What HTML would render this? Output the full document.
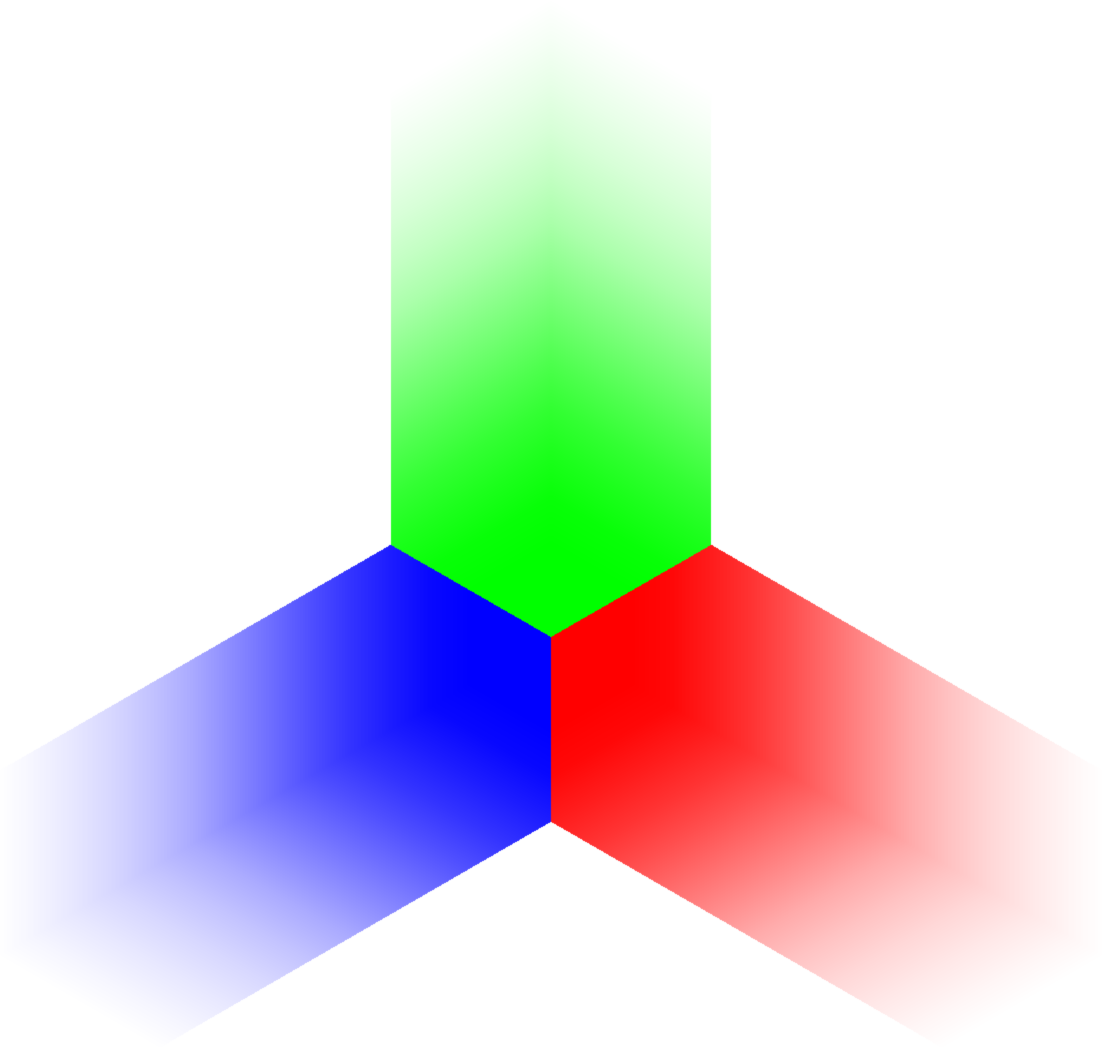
<!DOCTYPE html>
<html lang="en">
<head>
<meta charset="utf-8">
<title>Three-axis gradient faces</title>
<style>
html,body{margin:0;padding:0;background:#fff;width:1104px;height:1047px;overflow:hidden}
canvas{display:block}
</style>
</head>
<body>
<canvas id="chart" width="1104" height="1047"></canvas>
<script>
// Fade profile: depth from the inner vertex -> opacity
const fadeDepths = [0, 80, 120, 160, 200, 240, 280, 320, 360, 400, 440, 480, 520, 552];
const fadeOpacity = [1, 1, 0.97, 0.89, 0.8, 0.69, 0.57, 0.45, 0.33, 0.235, 0.155, 0.09, 0.035, 0];
const faceColors = [[0, 255, 0], [255, 0, 0], [0, 0, 255]];
const faceAngles = [0, 120, 240];

const cx = 551, cy = 637;
const halfWidth = 160, notch = 92, shoulder = 545;
const canvas = document.getElementById('chart');
const ctx = canvas.getContext('2d');
const img = ctx.createImageData(canvas.width, canvas.height);

function fade(q) {
  for (let k = 1; k < fadeDepths.length; k++) {
    if (q <= fadeDepths[k]) {
      const t = (q - fadeDepths[k - 1]) / (fadeDepths[k] - fadeDepths[k - 1]);
      return fadeOpacity[k - 1] + t * (fadeOpacity[k] - fadeOpacity[k - 1]);
    }
  }
  return 0;
}

const rots = faceAngles.map(a => {
  const r = a * Math.PI / 180;
  return [Math.cos(r), Math.sin(r)];
});

for (let y = 0; y < canvas.height; y++) {
  for (let x = 0; x < canvas.width; x++) {
    const dx = x + 0.5 - cx, dy = y + 0.5 - cy;
    const o = (y * canvas.width + x) * 4;
    img.data[o] = img.data[o + 1] = img.data[o + 2] = img.data[o + 3] = 255;
    for (let f = 0; f < rots.length; f++) {
      const c = rots[f][0], s = rots[f][1];
      // rotate the pixel back into the upright (green) face frame
      const lx = dx * c + dy * s;
      const up = dx * s - dy * c;
      const ax = Math.abs(lx);
      if (ax > halfWidth) continue;
      if (up < ax * notch / halfWidth) continue;
      if (up > shoulder + (halfWidth - ax) * notch / halfWidth) continue;
      const q = 0.5 * ax + (Math.sqrt(3) / 2) * up;
      const a = fade(q);
      for (let ch = 0; ch < 3; ch++) {
        img.data[o + ch] = Math.round(255 + (faceColors[f][ch] - 255) * a);
      }
      break;
    }
  }
}
ctx.putImageData(img, 0, 0);
</script>
</body>
</html>
